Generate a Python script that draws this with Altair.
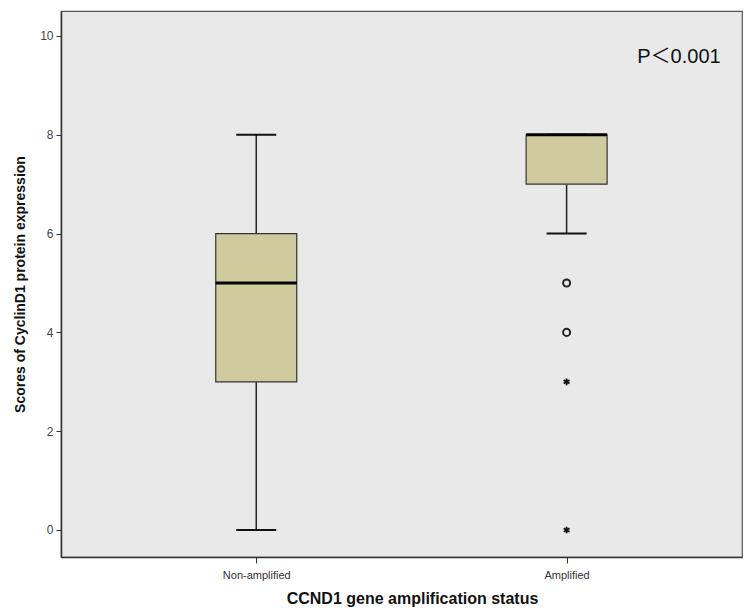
import altair as alt
import pandas as pd

groups = ["Non-amplified", "Amplified"]
group_pos = [1, 2]
mins = [0, 6]
q1s = [3, 7]
medians = [5, 8]
q3s = [6, 8]
maxs = [8, 8]

outlier_group = [2, 2]
outlier_vals = [5, 4]
extreme_group = [2, 2]
extreme_vals = [3, 0]

annot_text = ["P\uff1c0.001"]
annot_x = [2.362]
annot_y = [9.57]

box = pd.DataFrame({"group": groups, "pos": group_pos, "min": mins, "q1": q1s,
                    "median": medians, "q3": q3s, "max": maxs})
outl = pd.DataFrame({"pos": outlier_group, "v": outlier_vals})
extr = pd.DataFrame({"pos": extreme_group, "v": extreme_vals})
ann = pd.DataFrame({"t": annot_text, "x": annot_x, "y": annot_y})

label_expr = "datum.value == 1 ? '%s' : (datum.value == 2 ? '%s' : '')" % (groups[0], groups[1])

xs = alt.Scale(domain=[0.387, 2.549], nice=False, zero=False)
ys = alt.Scale(domain=[-0.547, 10.506], nice=False, zero=False)

X = alt.X("pos:Q", scale=xs, axis=alt.Axis(values=group_pos, labelExpr=label_expr,
          title="CCND1 gene amplification status", grid=False, tickSize=6,
          labelFontSize=11, labelColor="#333", labelPadding=6,
          titleFontSize=16, titleFontWeight="bold", titleColor="#111", titlePadding=10,
          titleX=351,
          domainColor="#333", tickColor="#333", domainWidth=1.5, labelFont="Liberation Sans",
          titleFont="Liberation Sans"))
Y = alt.Y("q1:Q", scale=ys, axis=alt.Axis(values=[0, 2, 4, 6, 8, 10], grid=False, tickSize=5,
          labelFontSize=12, labelColor="#444444", labelPadding=3,
          title="Scores of CyclinD1 protein expression", titleFontSize=14,
          titleFontWeight="bold", titleColor="#111", titlePadding=12,
          domainColor="#333", tickColor="#333", domainWidth=1.5, labelFont="Liberation Sans",
          titleFont="Liberation Sans"))

base = alt.Chart(box)

whisk_low = base.mark_rule(color="#222", strokeWidth=1.5, opacity=1).encode(
    x=X, y=alt.Y("min:Q", scale=ys), y2="q1:Q")
whisk_high = base.mark_rule(color="#222", strokeWidth=1.5, opacity=1).encode(
    x=alt.X("pos:Q", scale=xs), y=alt.Y("q3:Q", scale=ys), y2="max:Q")
cap_low = base.mark_tick(orient="horizontal", size=40, thickness=2, color="#111", opacity=1).encode(
    x=alt.X("pos:Q", scale=xs), y=alt.Y("min:Q", scale=ys))
cap_high = base.mark_tick(orient="horizontal", size=40, thickness=2, color="#111", opacity=1).encode(
    x=alt.X("pos:Q", scale=xs), y=alt.Y("max:Q", scale=ys))
boxes = base.mark_bar(size=81, color="#cfcb9e", stroke="#333", strokeWidth=1.2, opacity=1).encode(
    x=alt.X("pos:Q", scale=xs), y=Y, y2="q3:Q")
med = base.mark_tick(orient="horizontal", size=81, thickness=3, color="#000", opacity=1).encode(
    x=alt.X("pos:Q", scale=xs), y=alt.Y("median:Q", scale=ys))

circles = alt.Chart(outl).mark_point(shape="circle", filled=False, size=50,
                                     color="#222", strokeWidth=2, opacity=1).encode(
    x=alt.X("pos:Q", scale=xs), y=alt.Y("v:Q", scale=ys))
stars = alt.Chart(extr).mark_point(
    shape="M0,-1L0,1M-0.87,-0.5L0.87,0.5M-0.87,0.5L0.87,-0.5",
    filled=False, size=45, color="#111", strokeWidth=1.8, opacity=1).encode(
    x=alt.X("pos:Q", scale=xs), y=alt.Y("v:Q", scale=ys))

txt = alt.Chart(ann).mark_text(fontSize=20, font="Liberation Sans, Noto Sans CJK SC", color="#111").encode(
    x=alt.X("x:Q", scale=xs), y=alt.Y("y:Q", scale=ys), text="t:N")

chart = alt.layer(whisk_low, whisk_high, cap_low, cap_high, boxes, med, circles, stars, txt).properties(
    width=681, height=546,
    autosize=alt.AutoSizeParams(type="none"),
    padding={"left": 53, "top": 3, "right": 5, "bottom": 55},
    background="white",
).configure_view(fill="#e9e9e9", stroke="#555", strokeWidth=1.2)

chart.save("out.html", embed_options={"renderer": "svg", "actions": False})
